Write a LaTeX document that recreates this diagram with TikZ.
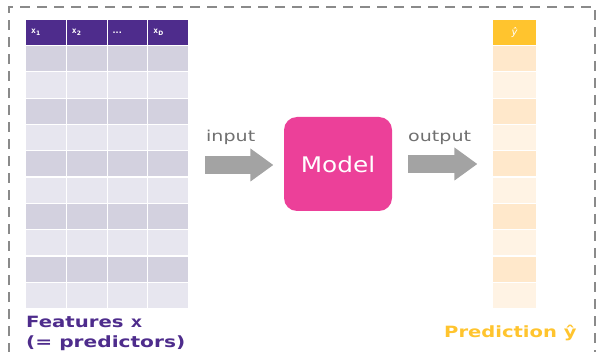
\documentclass[tikz,border=0pt]{standalone}
\usepackage{fontspec}
\usepackage{graphicx}
\setmainfont{DejaVu Sans}
\newfontfamily\monob{DejaVu Sans Mono}
\usetikzlibrary{shapes.arrows}
\definecolor{hdr}{HTML}{4E2C8C}
\definecolor{rowA}{HTML}{D3D1DF}
\definecolor{rowB}{HTML}{E7E6EF}
\definecolor{gold}{HTML}{FFC42E}
\definecolor{pA}{HTML}{FFE8CB}
\definecolor{pB}{HTML}{FFF3E4}
\definecolor{arr}{HTML}{A3A3A3}
\definecolor{lbl}{HTML}{707070}
\definecolor{pink}{HTML}{EC4099}
\definecolor{framec}{HTML}{8A8A8A}
\newcommand\wx[2]{\scalebox{#1}[1]{#2}}
\begin{document}
\begin{tikzpicture}[x=1pt,y=-1pt,
  cell/.style={draw=white, line width=1.2pt, inner sep=0pt, minimum width=40.75pt, minimum height=26.3pt, anchor=north west},
  pcell/.style={cell, minimum width=44pt},
  hlab/.style={anchor=west, inner sep=0pt, text=white, font=\fontsize{8}{8}\selectfont\bfseries},
  blockarrow/.style={single arrow, fill=arr, draw=none, inner sep=8pt, minimum width=33pt, single arrow tip angle=72, single arrow head indent=0pt, anchor=tail},
  lab/.style={anchor=base west, inner sep=0pt, text=lbl, font=\fontsize{15}{15}\selectfont},
  big/.style={anchor=base west, inner sep=0pt, font=\fontsize{15.5}{15.5}\selectfont\bfseries},
]
\useasboundingbox (0,0) rectangle (596,352);
\draw[framec, line width=1.6pt, dash pattern=on 10pt off 7pt] (9,370) -- (9,7) -- (595,7) -- (595,370);
% feature table
\foreach \c in {0,...,3} {
  \node[cell, fill=hdr, minimum height=26pt] (h\c) at (25+40.75*\c, 19) {};
}
\foreach \r in {1,3,...,9} { \foreach \c in {0,...,3} {
  \node[cell, fill=rowA] (t\r-\c) at (25+40.75*\c, 45+26.3*\r-26.3) {}; } }
\foreach \r in {2,4,...,10} { \foreach \c in {0,...,3} {
  \node[cell, fill=rowB] (t\r-\c) at (25+40.75*\c, 45+26.3*\r-26.3) {}; } }
\node[hlab] (l0) at ([xshift=6pt]h0.west) {{\monob x}\textsubscript{1}};
\node[hlab] (l1) at ([xshift=6pt]h1.west) {{\monob x}\textsubscript{2}};
\node[hlab] (l2) at ([xshift=6pt]h2.west) {...};
\node[hlab] (l3) at ([xshift=6pt]h3.west) {{\monob x}\textsubscript{D}};
% prediction column
\node[pcell, fill=gold, minimum height=26pt] (ph) at (492,19) {};
\foreach \r in {1,3,...,9} { \node[pcell, fill=pA] (p\r) at (492, 45+26.3*\r-26.3) {}; }
\foreach \r in {2,4,...,10} { \node[pcell, fill=pB] (p\r) at (492, 45+26.3*\r-26.3) {}; }
\node[inner sep=0pt, text=white, font=\fontsize{10}{10}\selectfont\itshape] (yh) at (ph.center) {ŷ};
% model and arrows
\node[fill=pink, rounded corners=13pt, minimum width=108pt, minimum height=94pt, text=white, font=\fontsize{21.5}{21.5}\selectfont] (model) at (338,164) {\wx{1.15}{Model}};
\node[blockarrow, minimum height=68pt] (ain) at (205,165) {};
\node[blockarrow, minimum height=69pt] (aout) at (408,164) {};
\node[lab] (tin) at (206,142) {\wx{1.27}{input}};
\node[lab] (tout) at (408,142) {\wx{1.27}{output}};
% captions
\node[big, text=hdr] (f1) at (26,327) {\wx{1.27}{Features {\monob x}}};
\node[big, text=hdr] (f2) at (26,347) {\wx{1.3}{(= predictors)}};
\node[big, text=gold] (pr) at (444,337) {\wx{1.26}{Prediction ŷ}};
\end{tikzpicture}
\end{document}
